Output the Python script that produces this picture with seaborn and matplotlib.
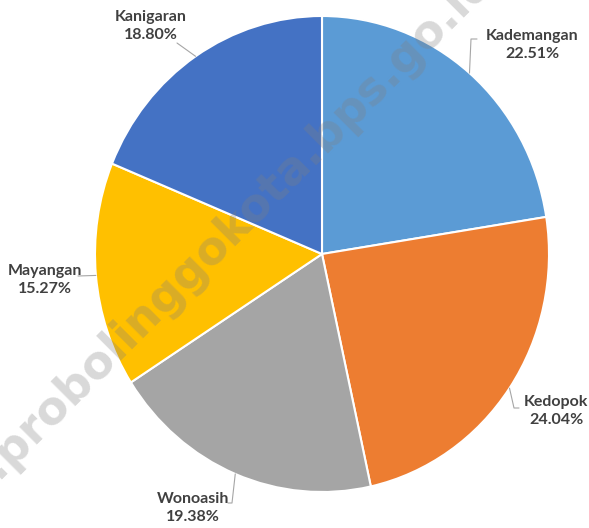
import numpy as np
import matplotlib.pyplot as plt
import seaborn as sns

# data
kecamatan = ['Kademangan', 'Kedopok', 'Wonoasih', 'Mayangan', 'Kanigaran']
persen = [22.51, 24.04, 19.38, 15.27, 18.80]
warna = ['#5B9BD5', '#ED7D31', '#A5A5A5', '#FFC000', '#4472C4']

sns.set_theme(style='white')
plt.rcParams['font.family'] = ['Lato', 'DejaVu Sans']

W, H = 589, 528
fig = plt.figure(figsize=(W / 100, H / 100), dpi=100)
# pie box in pixels: x 95..549, y 16..492
ax = fig.add_axes([95 / W, (H - 492) / H, 454 / W, 476 / H])

wedges, _ = ax.pie(persen, colors=sns.color_palette(warna), startangle=90,
                   counterclock=False, radius=1,
                   wedgeprops=dict(edgecolor='white', linewidth=1.5))
ax.set_aspect('auto')
ax.set_xlim(-1, 1)
ax.set_ylim(-1, 1)
ax.axis('off')


def px(x, y):
    # pixel position -> data coords of the pie axes
    return (x - 322) / 227, (254 - y) / 238


# label layout in pixels: text centre, leader elbow, leader end
label_pos = [(532, 45), (556, 411), (193, 508), (45, 280), (151, 26)]
leader_end = [[(471, 39), (477, 39)],
              [(514, 408), (519, 408)],
              [(232, 503), (228, 503)],
              [(78, 276)],
              [(177, 43)]]

for w, nama, p, pos, ends in zip(wedges, kecamatan, persen, label_pos, leader_end):
    mid = np.deg2rad((w.theta1 + w.theta2) / 2)
    pts = [(np.cos(mid), np.sin(mid))] + [px(*e) for e in ends]
    xs, ys = zip(*pts)
    ax.plot(xs, ys, color='#a6a6a6', lw=0.8, clip_on=False, zorder=3)
    tx, ty = px(*pos)
    ax.text(tx, ty, f'{nama}\n{p:.2f}%', ha='center', va='center',
            fontsize=11.5, fontweight='bold', color='#404040',
            linespacing=1.35, clip_on=False, zorder=4)

# watermark
fig.text(195 / W, 1 - 268 / H, 'www.probolinggokota.bps.go.id',
         ha='center', va='center', rotation=45, fontsize=33,
         fontweight='bold', family='DejaVu Sans', color='#808080',
         alpha=0.3, zorder=10)

fig.savefig('out.png', dpi=100, facecolor='white')
